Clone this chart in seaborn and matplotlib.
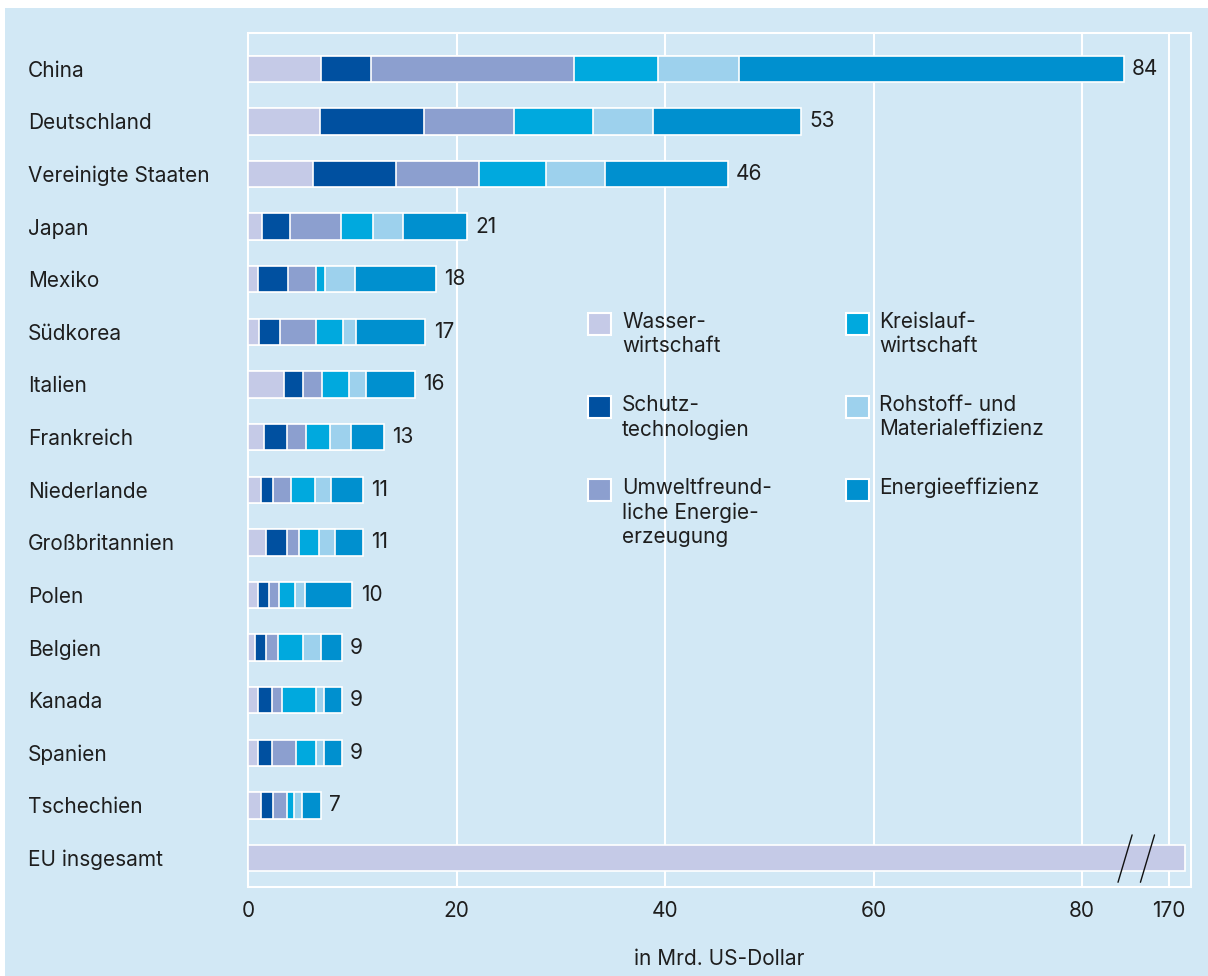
import numpy as np
import pandas as pd
import seaborn as sns
import matplotlib
matplotlib.use("Agg")
import matplotlib.pyplot as plt
from matplotlib.patches import Rectangle
from matplotlib.lines import Line2D

# Umweltschutzgüter-Exporte nach Branchen, in Mrd. US-Dollar
countries = ["China", "Deutschland", "Vereinigte Staaten", "Japan", "Mexiko",
             "Südkorea", "Italien", "Frankreich", "Niederlande", "Großbritannien",
             "Polen", "Belgien", "Kanada", "Spanien", "Tschechien"]
wasser    = [7.0, 6.9, 6.2, 1.3, 1.0, 1.1, 3.5, 1.5, 1.2, 1.7, 1.0, 0.7, 1.0, 1.0, 1.2]
schutz    = [4.8, 10.0, 8.0, 2.7, 2.8, 2.0, 1.8, 2.2, 1.2, 2.0, 1.0, 1.0, 1.3, 1.3, 1.2]
umwelt    = [19.5, 8.6, 8.0, 4.9, 2.7, 3.4, 1.8, 1.9, 1.7, 1.2, 1.0, 1.2, 1.0, 2.3, 1.3]
kreislauf = [8.0, 7.6, 6.4, 3.1, 0.9, 2.6, 2.6, 2.3, 2.3, 1.9, 1.5, 2.4, 3.2, 1.9, 0.7]
rohstoff  = [7.8, 5.7, 5.6, 2.9, 2.9, 1.3, 1.6, 2.0, 1.6, 1.5, 1.0, 1.7, 0.8, 0.8, 0.8]
energie   = [36.9, 14.2, 11.8, 6.1, 7.7, 6.6, 4.7, 3.1, 3.0, 2.7, 4.5, 2.0, 1.7, 1.7, 1.8]

eu_label = "EU insgesamt"
eu_total = 171.5

segment_names = ["Wasser-\nwirtschaft", "Schutz-\ntechnologien",
                 "Umweltfreund-\nliche Energie-\nerzeugung", "Kreislauf-\nwirtschaft",
                 "Rohstoff- und\nMaterialeffizienz", "Energieeffizienz"]
segment_colors = ["#c5cae7", "#0050a0", "#8c9fcf", "#00a9de", "#9dd1ed", "#0090cf"]

x_ticks = [0, 20, 40, 60, 80, 170]

# axis break: everything above the break is shifted so that 170 sits just past 80
BREAK_LOW, BREAK_HIGH, BREAK_POS = 80, 170, 88.35


def axis_pos(v):
    return v if v <= BREAK_LOW else BREAK_POS + (v - BREAK_HIGH)


BG = "#d2e8f5"
TEXT = "#1e1e1e"
FS = 15

sns.set_theme(style="white")
plt.rcParams["font.family"] = ["Inter", "DejaVu Sans"]
plt.rcParams["text.color"] = TEXT

W, H = 1208, 976
fig = plt.figure(figsize=(W / 100, H / 100), dpi=100, facecolor="white")
fig.add_artist(Rectangle((5 / W, 0), 1, (H - 8) / H, transform=fig.transFigure,
                         facecolor=BG, edgecolor="none", zorder=-10))
ax = fig.add_axes([248 / W, 1 - 887 / H, (1191 - 248) / W, (887 - 33) / H])
ax.set_facecolor(BG)

order = countries + [eu_label]
segments = [wasser, schutz, umwelt, kreislauf, rohstoff, energie]
cum = np.cumsum(np.array(segments), axis=0)

# stacked bars: draw cumulative totals from the outermost segment inwards
for i in reversed(range(len(segments))):
    df = pd.DataFrame({"land": countries, "wert": cum[i]})
    sns.barplot(data=df, x="wert", y="land", order=order, orient="h",
                color=segment_colors[i], saturation=1, width=0.5,
                edgecolor="white", linewidth=1.2, ax=ax, zorder=3)

eu_df = pd.DataFrame({"land": [eu_label], "wert": [axis_pos(eu_total)]})
sns.barplot(data=eu_df, x="wert", y="land", order=order, orient="h",
            color=segment_colors[0], saturation=1, width=0.5,
            edgecolor="white", linewidth=1.2, ax=ax, zorder=3)

totals = cum[-1]
for yi, tot in enumerate(totals):
    ax.annotate(f"{tot:.0f}", xy=(tot, yi), xytext=(6, 0), textcoords="offset points",
                ha="left", va="center", fontsize=FS, color=TEXT, zorder=5)

# break marks on the EU bar
eu_y = len(countries)
for x0 in (83.45, 85.6):
    ax.add_line(Line2D([x0, x0 + 1.35], [eu_y + 0.46, eu_y - 0.44],
                       color="#111111", lw=1.0, zorder=6))

ax.set_xlim(0, 90.45)
ax.set_ylim(len(order) - 1 + 0.55, -0.68)

tick_pos = [axis_pos(t) for t in x_ticks]
ax.set_xticks(tick_pos)
ax.set_xticklabels([str(t) for t in x_ticks])
for xp in tick_pos[1:]:
    ax.axvline(xp, color="white", lw=1.5, zorder=1)

ax.tick_params(axis="x", length=0, pad=10, labelsize=FS, labelcolor=TEXT)
ax.tick_params(axis="y", length=0, pad=158.5, labelsize=FS, labelcolor=TEXT)
for lab in ax.get_yticklabels():
    lab.set_horizontalalignment("left")

ax.set_ylabel("")
ax.set_xlabel("in Mrd. US-Dollar", fontsize=FS, color=TEXT, labelpad=20)

for side in ["left", "right", "top", "bottom"]:
    ax.spines[side].set_visible(True)
    ax.spines[side].set_color("white")
    ax.spines[side].set_linewidth(1.5)

# legend block
legend_cols = [(588, 622), (846, 879)]
legend_rows = [313, 396, 479]
for k, (name, col) in enumerate(zip(segment_names, segment_colors)):
    bx, tx = legend_cols[k // 3]
    by = legend_rows[k % 3]
    fig.add_artist(Rectangle((bx / W, 1 - (by + 22) / H), 23 / W, 22 / H,
                             transform=fig.transFigure, facecolor=col,
                             edgecolor="white", lw=1.5))
    fig.text(tx / W, 1 - (by - 1) / H, name, ha="left", va="top",
             fontsize=FS, color=TEXT, linespacing=1.25)

fig.savefig("out.png", dpi=100, facecolor="white")
